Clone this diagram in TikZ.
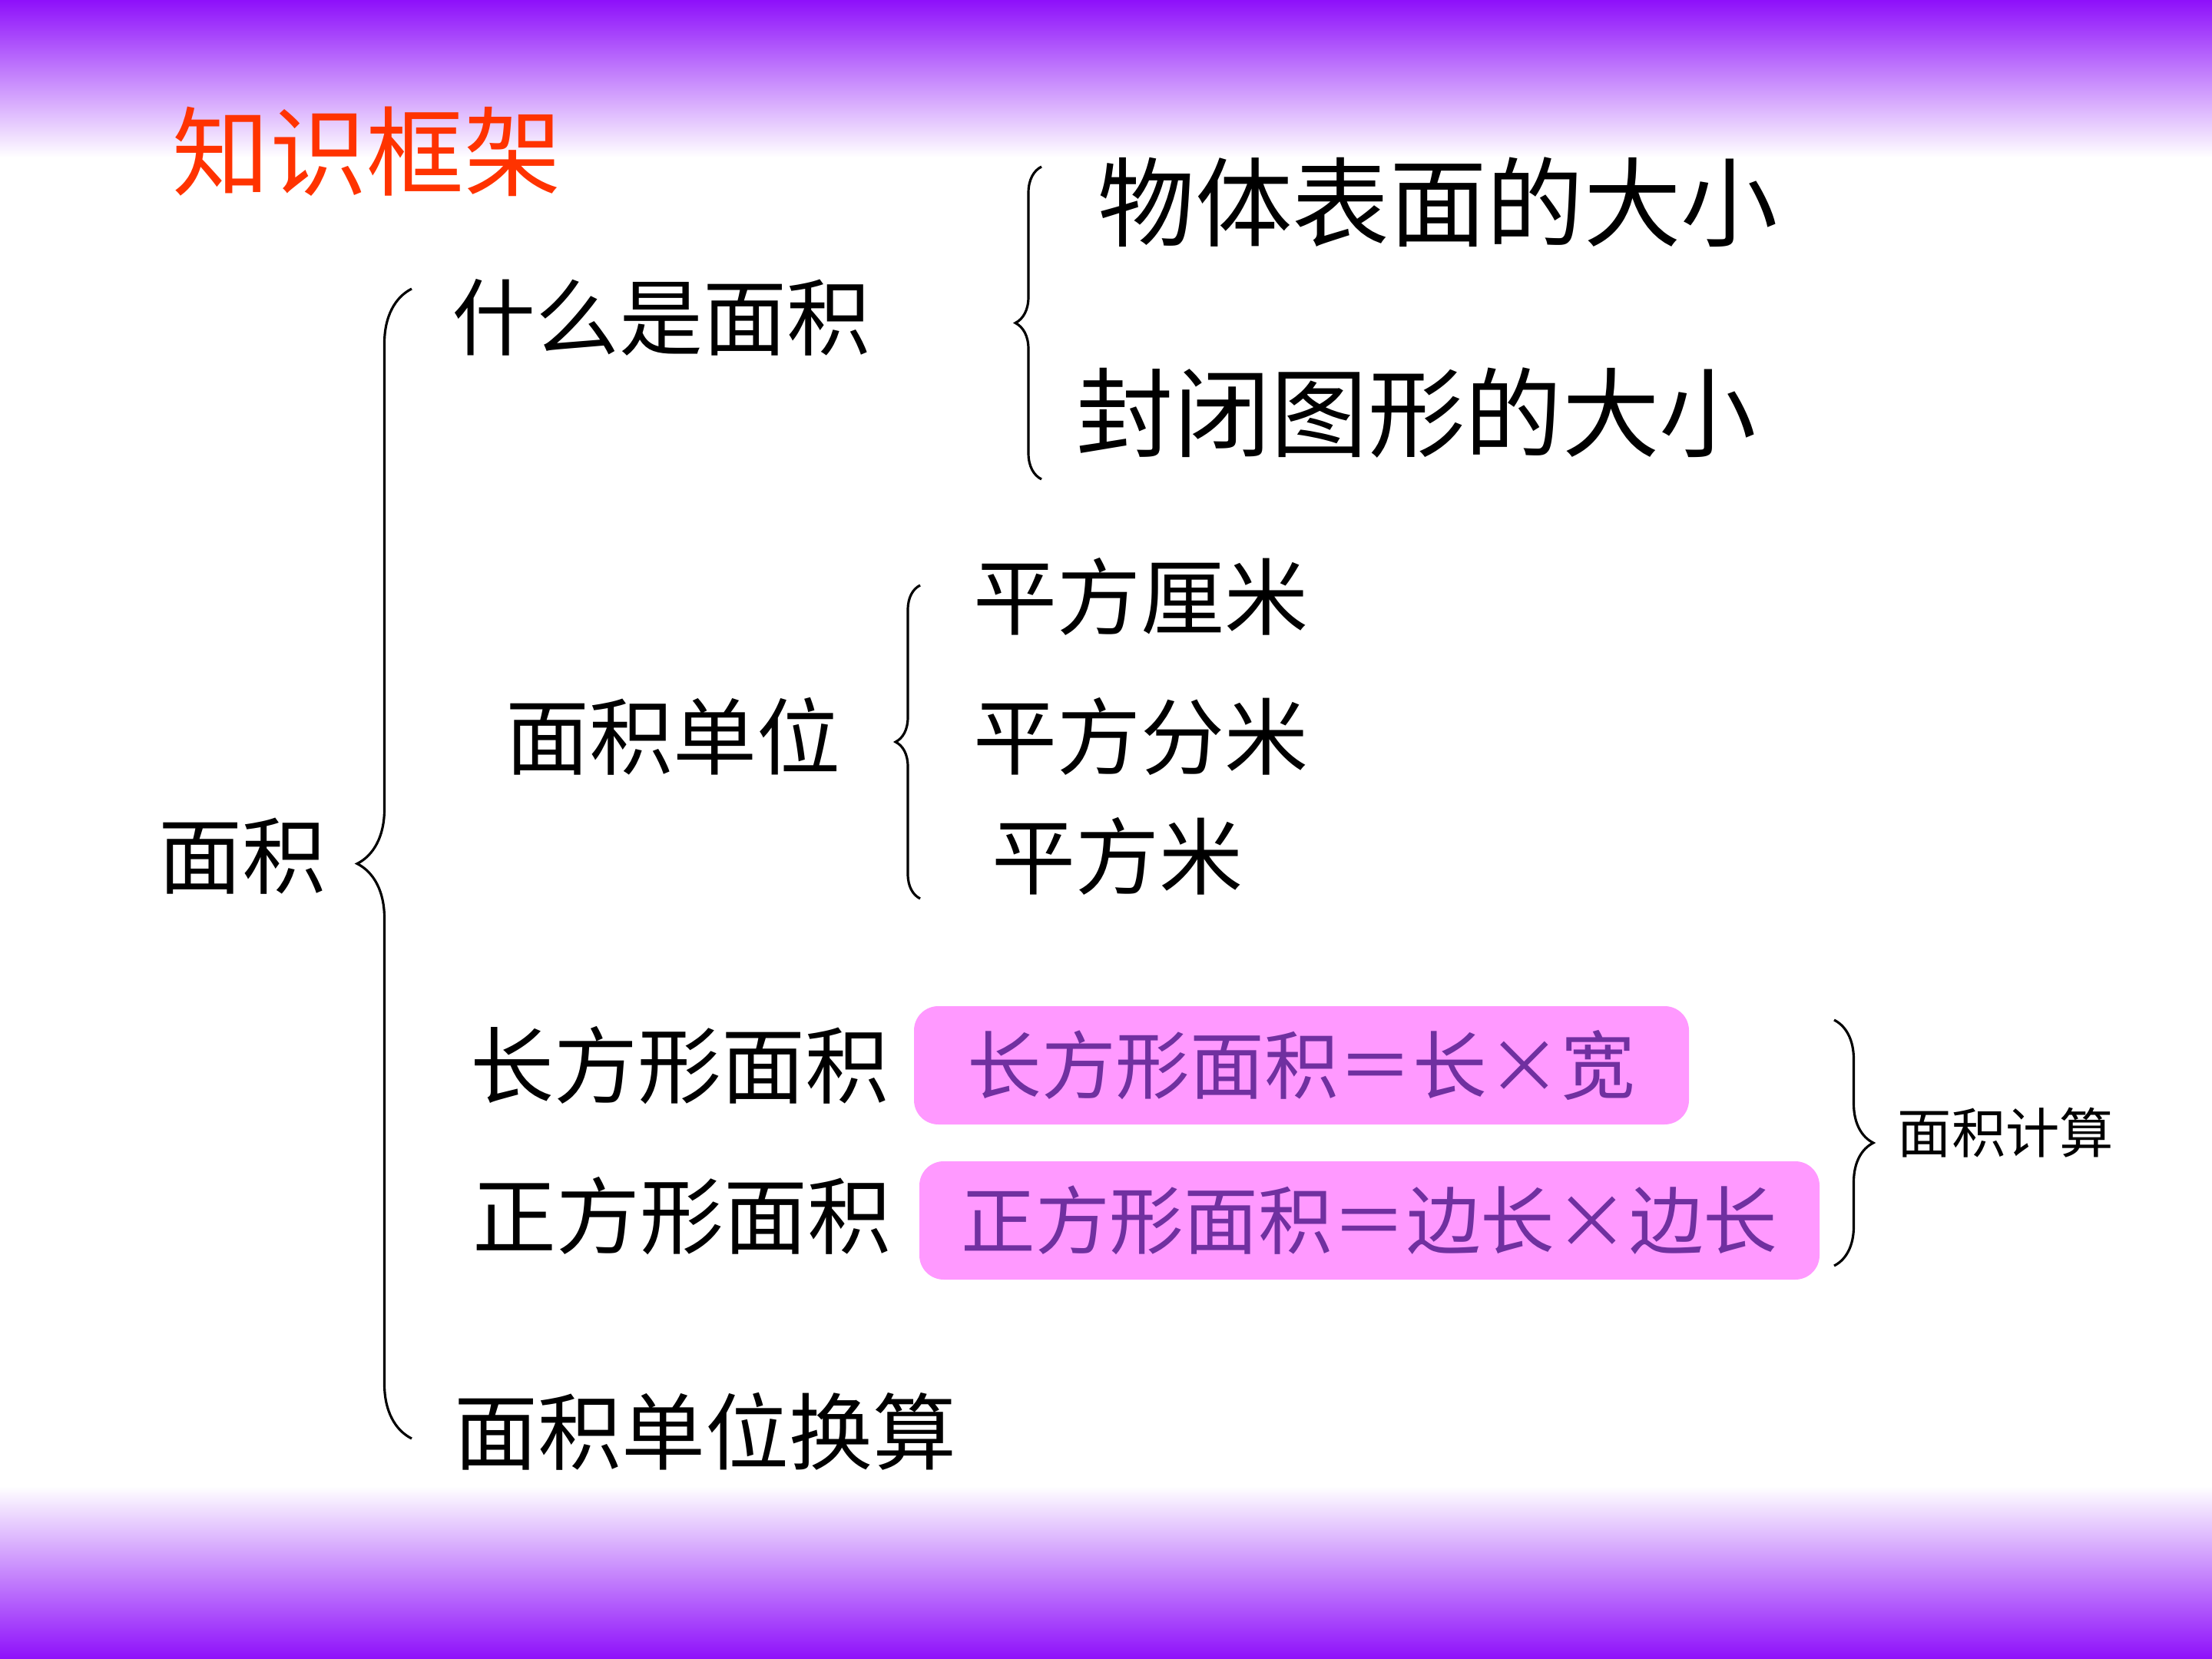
\documentclass[tikz,border=0pt]{standalone}
\usepackage{fontspec}
\setmainfont{Noto Sans CJK SC}
\usepackage{tikz}
\usetikzlibrary{positioning, decorations.pathreplacing}

\definecolor{bandviolet}{RGB}{142,16,250}
\definecolor{titlered}{RGB}{255,51,0}
\definecolor{boxpink}{RGB}{255,153,255}
\definecolor{formulapurple}{RGB}{112,48,160}

\begin{document}
\begin{tikzpicture}[
    item/.style={inner sep=0pt, anchor=west, font=\fontsize{31}{36}\selectfont},
    big/.style={item, font=\fontsize{36}{42}\selectfont},
    formula/.style={fill=boxpink, rounded corners=9pt, inner sep=0pt,
        minimum height=1.54cm, text=formulapurple, font=\fontsize{27.5}{33}\selectfont},
    curly/.style={decorate, decoration={brace, amplitude=#1}, line width=0.9pt},
]

\useasboundingbox (0,0) rectangle (28.8,-21.6);

% Top and bottom bands
\shade[top color=bandviolet, bottom color=white] (0,0) rectangle (28.8,-2.05);
\shade[top color=white, bottom color=bandviolet] (0,-19.35) rectangle (28.8,-21.6);

% Title
\node[big, text=titlered] (title) at (2.24,-1.97) {知识框架};

% Root and first level
\node[item] (root) at (2.06,-11.15) {面积};
\node[item] (what) at (5.88,-4.13) {什么是面积};
\node[item] (units) at (6.58,-9.59) {面积单位};
\node[item] (rect) at (6.12,-13.87) {长方形面积};
\node[item] (square) at (6.15,-15.83) {正方形面积};
\node[item] (convert) at (5.91,-18.64) {面积单位换算};

% What is area
\node[big] (surface) at (14.29,-2.63) {物体表面的大小};
\node[big] (closed) at (14.01,-5.38) {封闭图形的大小};

% Units
\node[item] (cm) at (12.67,-7.77) {平方厘米};
\node[item] (dm) at (12.67,-9.59) {平方分米};
\node[item] (m) at (12.91,-11.15) {平方米};

% Formulas
\node[formula, minimum width=10.09cm] (rectf) at (16.945,-13.87) {长方形面积＝长×宽};
\node[formula, minimum width=11.72cm] (squaref) at (17.83,-15.89) {正方形面积＝边长×边长};
\node[item, font=\fontsize{20}{24}\selectfont] (calc) at (24.70,-14.75) {面积计算};

% Braces
\coordinate (rootTop) at (5.36,-3.76);
\coordinate (rootBot) at (5.36,-18.73);
\coordinate (whatTop) at (13.56,-2.17);
\coordinate (whatBot) at (13.56,-6.24);
\coordinate (unitsTop) at (11.98,-7.62);
\coordinate (unitsBot) at (11.98,-11.70);
\coordinate (calcTop) at (23.88,-13.28);
\coordinate (calcBot) at (23.88,-16.48);

\draw[curly=0.71cm] (rootBot) -- (rootTop);
\draw[curly=0.34cm] (whatBot) -- (whatTop);
\draw[curly=0.32cm] (unitsBot) -- (unitsTop);
\draw[curly=0.51cm] (calcTop) -- (calcBot);

\end{tikzpicture}
\end{document}
